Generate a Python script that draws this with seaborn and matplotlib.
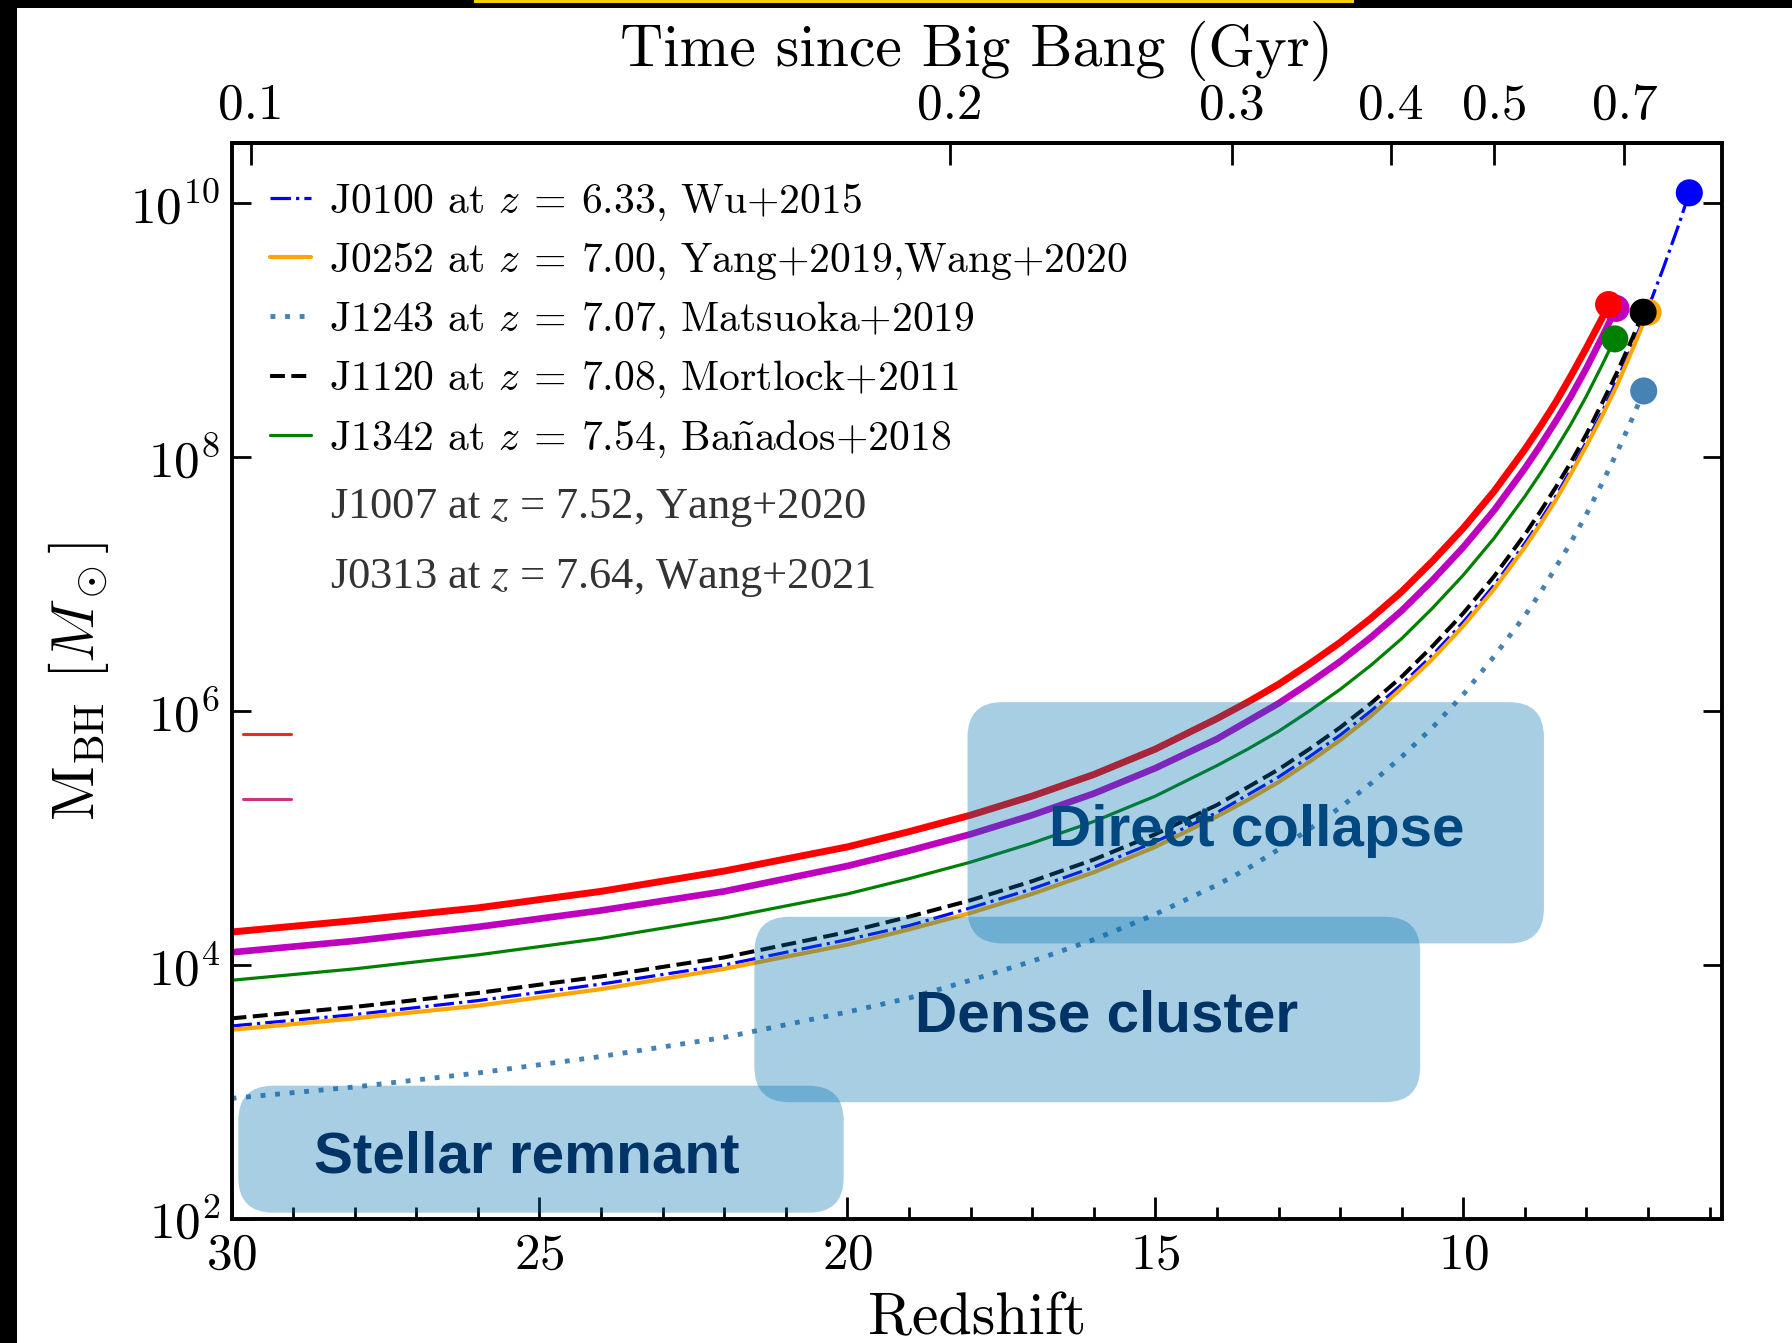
import numpy as np
import matplotlib
matplotlib.use("Agg")
import matplotlib.pyplot as plt
import seaborn as sns
from matplotlib.patches import FancyBboxPatch, Rectangle
from matplotlib.lines import Line2D
from matplotlib.ticker import (FixedLocator, NullLocator, LogFormatterSciNotation,
                               MultipleLocator)

# ---------------- data ----------------
names = ["J0100", "J0252", "J1243", "J1120", "J1342", "J1007", "J0313"]
legend_labels = [
    r"J0100 at $z\:=\:6.33$, Wu+2015",
    r"J0252 at $z\:=\:7.00$, Yang+2019,Wang+2020",
    r"J1243 at $z\:=\:7.07$, Matsuoka+2019",
    r"J1120 at $z\:=\:7.08$, Mortlock+2011",
    r"J1342 at $z\:=\:7.54$, Ba$\tilde{\mathrm{n}}$ados+2018",
]
text_j1007 = "J1007 at $z$ = 7.52, Yang+2020"
text_j0313 = "J0313 at $z$ = 7.64, Wang+2021"

# growth tracks (redshift, log10 M_BH / Msun)
z_high = [30, 28, 26, 24, 22, 20, 19, 18, 17, 16, 15, 14, 13.5, 13, 12.5, 12,
          11.5, 11, 10.5, 10, 9.5, 9, 8.75, 8.5, 8.25, 8]

z_J0100 = z_high + [7.75, 7.5, 7.25, 7.0, 6.75, 6.5, 6.33]
logM_J0100 = [3.52, 3.61, 3.72, 3.85, 4.00, 4.20, 4.31, 4.45, 4.60, 4.77, 4.97, 5.20, 5.34, 5.48, 5.64, 5.81,
              6.00, 6.21, 6.44, 6.70, 6.99, 7.32, 7.50, 7.69, 7.90, 8.12,
              8.35, 8.61, 8.88, 9.17, 9.49, 9.83, 10.08]

z_J0252 = z_high + [7.75, 7.5, 7.25, 7.0]
logM_J0252 = [3.49, 3.58, 3.68, 3.81, 3.97, 4.16, 4.28, 4.41, 4.56, 4.73, 4.93, 5.17, 5.30, 5.44, 5.60, 5.77,
              5.96, 6.18, 6.41, 6.67, 6.96, 7.29, 7.47, 7.66, 7.87, 8.09,
              8.32, 8.57, 8.85, 9.14]

z_J1243 = z_high + [7.75, 7.5, 7.25, 7.07]
logM_J1243 = [2.95, 3.04, 3.15, 3.28, 3.43, 3.63, 3.74, 3.88, 4.03, 4.20, 4.40, 4.63, 4.76, 4.91, 5.07, 5.24,
              5.43, 5.64, 5.87, 6.13, 6.43, 6.75, 6.93, 7.13, 7.33, 7.55,
              7.79, 8.04, 8.31, 8.52]

z_J1120 = z_high + [7.75, 7.5, 7.25, 7.08]
logM_J1120 = [3.58, 3.67, 3.78, 3.91, 4.06, 4.26, 4.38, 4.51, 4.66, 4.83, 5.03, 5.26, 5.40, 5.54, 5.70, 5.87,
              6.06, 6.27, 6.51, 6.77, 7.06, 7.39, 7.57, 7.76, 7.96, 8.18,
              8.42, 8.67, 8.94, 9.14]

z_J1342 = z_high + [7.75, 7.54]
logM_J1342 = [3.88, 3.97, 4.08, 4.21, 4.37, 4.56, 4.68, 4.81, 4.96, 5.13, 5.33, 5.57, 5.70, 5.84, 6.00, 6.17,
              6.36, 6.57, 6.81, 7.07, 7.36, 7.69, 7.87, 8.06, 8.26, 8.48,
              8.72, 8.93]

z_J1007 = z_high + [7.75, 7.52]
logM_J1007 = [4.10, 4.19, 4.30, 4.43, 4.58, 4.78, 4.90, 5.03, 5.18, 5.35, 5.55, 5.78, 5.92, 6.06, 6.22, 6.39,
              6.58, 6.79, 7.03, 7.29, 7.58, 7.91, 8.09, 8.28, 8.48, 8.70,
              8.94, 9.17]

z_J0313 = z_high + [7.75, 7.64]
logM_J0313 = [4.26, 4.35, 4.45, 4.58, 4.74, 4.93, 5.05, 5.18, 5.33, 5.50, 5.70, 5.94, 6.07, 6.21, 6.37, 6.54,
              6.73, 6.94, 7.18, 7.44, 7.73, 8.06, 8.24, 8.43, 8.64, 8.86,
              9.09, 9.20]

# observed quasars
z_obs = [6.33, 7.00, 7.07, 7.08, 7.54, 7.52, 7.64]
logM_obs = [10.08, 9.14, 8.52, 9.14, 8.93, 9.17, 9.20]

# seed regions
region_names = ["Stellar remnant", "Dense cluster", "Direct collapse"]
region_z = [(29.89, 20.06), (21.51, 10.70), (18.05, 8.69)]
region_logM = [(2.05, 3.05), (2.92, 4.38), (4.17, 6.07)]
region_label_z = [25.21, 15.79, 13.36]
region_label_logM = [2.363, 3.476, 4.935]

time_ticks = [0.1, 0.2, 0.3, 0.4, 0.5, 0.7]
time_labels = ["0.1", "0.2", "0.3", "0.4", "0.5", "0.7"]

# cosmology for the top axis
HUBBLE_TIME_GYR = 13.968   # H0 = 70
OMEGA_M, OMEGA_L = 0.3, 0.7

curves_z = dict(J0100=z_J0100, J0252=z_J0252, J1243=z_J1243, J1120=z_J1120,
                J1342=z_J1342, J1007=z_J1007, J0313=z_J0313)
curves_logM = dict(J0100=logM_J0100, J0252=logM_J0252, J1243=logM_J1243, J1120=logM_J1120,
                   J1342=logM_J1342, J1007=logM_J1007, J0313=logM_J0313)

# ---------------- styles ----------------
colors = dict(J0100="blue", J0252="orange", J1243="steelblue", J1120="black",
              J1342="green", J1007="#bf00bf", J0313="red")
styles = dict(J0100="-.", J0252="-", J1243=(0, (1, 2)), J1120="--",
              J1342="-", J1007="-", J0313="-")
widths = dict(J0100=2.3, J0252=3.0, J1243=3.5, J1120=2.9,
              J1342=2.3, J1007=4.8, J0313=5.0)


def z_to_t(z):
    z = np.clip(np.asarray(z, dtype=float), -0.99, None)
    return (2.0 / (3.0 * np.sqrt(OMEGA_L)) * HUBBLE_TIME_GYR
            * np.arcsinh(np.sqrt(OMEGA_L / OMEGA_M) * (1.0 + z) ** -1.5))


def t_to_z(t):
    t = np.clip(np.asarray(t, dtype=float), 1e-4, None)
    return (np.sinh(t * 3.0 * np.sqrt(OMEGA_L) / (2.0 * HUBBLE_TIME_GYR))
            / np.sqrt(OMEGA_L / OMEGA_M)) ** (-2.0 / 3.0) - 1.0


sns.set_theme(style="ticks")
plt.rcParams.update({
    "font.family": ["cmr10"],
    "mathtext.fontset": "cm",
    "axes.formatter.use_mathtext": True,
    "axes.unicode_minus": False,
    "axes.edgecolor": "black",
    "xtick.color": "black",
    "ytick.color": "black",
    "text.color": "black",
    "axes.labelcolor": "black",
})

W, H = 1792, 1343
fig, ax = plt.subplots(figsize=(W / 100, H / 100), dpi=100)
fig.patch.set_facecolor("white")
fig.subplots_adjust(left=0.1292, right=0.9609, bottom=0.0923, top=0.8933)

ax.set_yscale("log")
ax.set_xlim(30, 5.8)
ax.set_ylim(1e2, 10 ** 10.47)

for i, name in enumerate(names):
    zz = curves_z[name]
    mm = 10 ** np.asarray(curves_logM[name])
    sns.lineplot(x=zz, y=mm, ax=ax, color=colors[name], lw=widths[name],
                 linestyle=styles[name], sort=False, zorder=2, legend=False)
    sns.scatterplot(x=[z_obs[i]], y=[10 ** logM_obs[i]], ax=ax, color=colors[name],
                    s=380, edgecolor="none", linewidth=0, zorder=2.5, legend=False)

# main legend
handles = [Line2D([], [], color=colors[n], lw=widths[n], linestyle=styles[n]) for n in names[:5]]
leg1 = ax.legend(handles=handles, labels=legend_labels, loc="upper left",
                 bbox_to_anchor=(0.0256, 0.9647), frameon=False, fontsize=30,
                 handlelength=1.0, handletextpad=0.43, labelspacing=0.43,
                 borderpad=0, borderaxespad=0)
ax.add_artist(leg1)
leg2 = ax.legend(handles=[Line2D([], [], color="#ee2a1a", lw=2.2),
                          Line2D([], [], color="#cc3388", lw=2.2)],
                 labels=["", ""], loc="upper left", bbox_to_anchor=(0.0079, 0.4607),
                 frameon=False, fontsize=20, handlelength=1.7, handletextpad=0,
                 labelspacing=1.38, borderpad=0, borderaxespad=0)

ax.text(0.0661, 0.6514, text_j1007, transform=ax.transAxes, fontsize=32,
        family="Liberation Serif", color="#333333", math_fontfamily="stix", va="baseline")
ax.text(0.0661, 0.5863, text_j0313, transform=ax.transAxes, fontsize=32,
        family="Liberation Serif", color="#333333", math_fontfamily="stix", va="baseline")

# seed regions
pos = ax.get_position()
aspect = (pos.width * W) / (pos.height * H)
to_axes = ax.transData + ax.transAxes.inverted()
for k, rname in enumerate(region_names):
    (za, zb), (ma, mb) = region_z[k], region_logM[k]
    p = to_axes.transform([[za, 10 ** ma], [zb, 10 ** mb]])
    x0, y0 = p[0]
    x1, y1 = p[1]
    box = FancyBboxPatch((x0, y0), x1 - x0, y1 - y0,
                         boxstyle="round,pad=0,rounding_size=0.0235",
                         mutation_aspect=aspect, transform=ax.transAxes,
                         facecolor="#0072b2", edgecolor="none", alpha=0.34, zorder=3)
    ax.add_patch(box)
    ax.text(region_label_z[k], 10 ** region_label_logM[k], rname, ha="center", va="baseline",
            fontsize=42, fontweight="bold", family="Liberation Sans", color="#003366",
            zorder=2.8 if rname == "Direct collapse" else 4)

# axes cosmetics
ax.xaxis.set_major_locator(MultipleLocator(5))
ax.xaxis.set_minor_locator(MultipleLocator(1))
ax.yaxis.set_major_locator(FixedLocator([1e2, 1e4, 1e6, 1e8, 1e10]))
ax.yaxis.set_major_formatter(LogFormatterSciNotation())
ax.yaxis.set_minor_locator(NullLocator())
ax.tick_params(axis="x", which="both", direction="in", bottom=True, top=False,
               labelsize=37, pad=10, color="black")
ax.tick_params(axis="x", which="major", length=16, width=2)
ax.tick_params(axis="x", which="minor", length=8.4, width=2)
ax.tick_params(axis="y", which="major", direction="in", left=True, right=True,
               length=14, width=2, labelsize=37, pad=8, color="black")
for sp in ax.spines.values():
    sp.set_linewidth(2.8)
    sp.set_color("black")

ax.set_xlabel("Redshift", fontsize=43, labelpad=10)
ax.set_ylabel(r"M$_{\rm BH}$ [$M_\odot$]", fontsize=43, labelpad=14)

sec = ax.secondary_xaxis("top", functions=(z_to_t, t_to_z))
sec.set_xticks(time_ticks)
sec.set_xticklabels(time_labels)
sec.xaxis.set_minor_locator(NullLocator())
sec.tick_params(axis="x", direction="in", length=16, width=2, labelsize=37, pad=10.5, color="black")
sec.spines["top"].set_linewidth(2.8)
sec.set_xlabel("Time since Big Bang (Gyr)", fontsize=43, labelpad=12.5)

# frame decorations of the original screenshot
fig.add_artist(Rectangle((0, 1 - 8 / H), 1, 8 / H, transform=fig.transFigure,
                         facecolor="black", edgecolor="none", zorder=10))
fig.add_artist(Rectangle((0, 0), 17 / W, 1, transform=fig.transFigure,
                         facecolor="black", edgecolor="none", zorder=10))
fig.add_artist(Rectangle((474 / W, 1 - 3 / H), (1354 - 474) / W, 3 / H, transform=fig.transFigure,
                         facecolor="#f5d000", edgecolor="none", zorder=11))

fig.savefig("out.png", dpi=100)
